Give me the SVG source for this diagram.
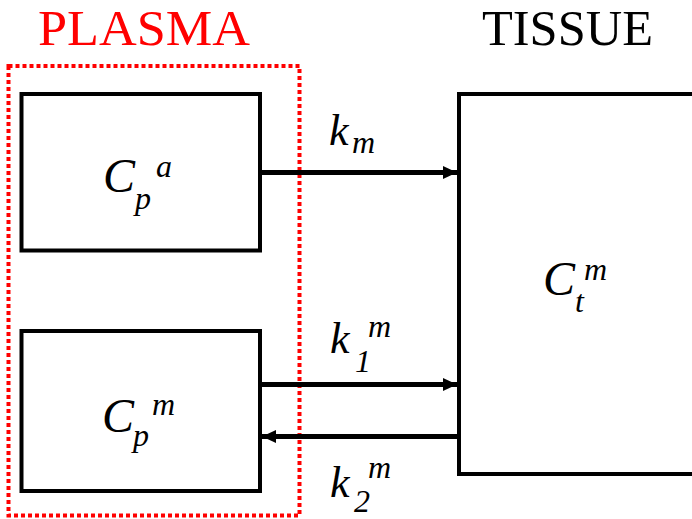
<svg xmlns="http://www.w3.org/2000/svg" width="692" height="519" viewBox="0 0 692 519">
<defs>
<style>
.box{fill:none;stroke:#000;stroke-width:4;stroke-linejoin:miter}
.conn{stroke:#000;stroke-width:5;fill:none}
text{font-family:'Liberation Serif','Times New Roman',Times,'DejaVu Serif',serif}
.title{font-size:50px}
.m{font-style:italic}
.big{font-size:48px}
.sm{font-size:32px}
.k{font-size:44px}
</style>
<marker id="ah" markerWidth="14" markerHeight="13" refX="14" refY="6.5" orient="auto" markerUnits="userSpaceOnUse">
<path d="M0,0 L14,6.5 L0,13 Z" fill="#000"/>
</marker>
</defs>
<rect width="692" height="519" fill="#fff"/>
<g id="plasma-group">
<rect x="8.5" y="66" width="291" height="449.5" fill="none" stroke="#ff0000" stroke-width="4" stroke-dasharray="4 3"/>
<text class="title" x="38" y="45" fill="#ff0000" textLength="212" lengthAdjust="spacingAndGlyphs">PLASMA</text>
</g>
<g id="tissue-title">
<text class="title" x="482" y="45" fill="#000" textLength="171" lengthAdjust="spacingAndGlyphs">TISSUE</text>
</g>
<g id="cpa">
<rect class="box" x="21.5" y="94" width="238.5" height="156.5"/>
<text class="m" x="103" y="192"><tspan class="big">C</tspan><tspan class="sm" x="135" y="209">p</tspan><tspan class="sm" x="156" y="177">a</tspan></text>
</g>
<g id="cpm">
<rect class="box" x="21.5" y="331" width="238.5" height="160"/>
<text class="m" x="102" y="432"><tspan class="big">C</tspan><tspan class="sm" x="133" y="446">p</tspan><tspan class="sm" x="152" y="415">m</tspan></text>
</g>
<g id="ctm">
<rect class="box" x="459" y="94" width="245" height="380"/>
<text class="m" x="543" y="295"><tspan class="big">C</tspan><tspan class="sm" x="575" y="312">t</tspan><tspan class="sm" x="584" y="280">m</tspan></text>
</g>
<g id="connectors">
<line class="conn" x1="260" y1="172.5" x2="457" y2="172.5" marker-end="url(#ah)"/>
<line class="conn" x1="260" y1="384.5" x2="457" y2="384.5" marker-end="url(#ah)"/>
<line class="conn" x1="459" y1="436.5" x2="262" y2="436.5" marker-end="url(#ah)"/>
</g>
<g id="labels">
<text class="m" x="329" y="145"><tspan class="k">k</tspan><tspan class="sm" x="352" y="153">m</tspan></text>
<text class="m" x="330" y="353"><tspan class="k">k</tspan><tspan class="sm" x="355" y="372">1</tspan><tspan class="sm" x="368" y="337">m</tspan></text>
<text class="m" x="330" y="497"><tspan class="k">k</tspan><tspan class="sm" x="354" y="512">2</tspan><tspan class="sm" x="368" y="478">m</tspan></text>
</g>
</svg>
